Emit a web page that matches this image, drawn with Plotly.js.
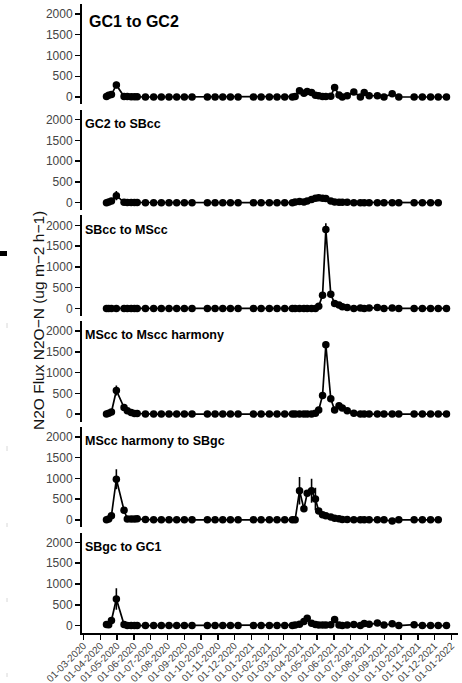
<!DOCTYPE html>
<html>
<head>
<meta charset="utf-8">
<script src="https://cdn.plot.ly/plotly-3.0.1.min.js"></script>
<style>html,body{margin:0;padding:0;background:#fff;}#chart{width:462px;height:683px;}</style>
</head>
<body>
<div id="chart"></div>
<script>
// Sampling dates (shared by all panels)
const dates = [
  '2020-04-12','2020-04-16','2020-04-21','2020-04-30','2020-05-14','2020-05-20','2020-05-27','2020-06-02','2020-06-07','2020-06-22',
  '2020-07-07','2020-07-21','2020-08-04','2020-08-18','2020-09-01','2020-09-15','2020-10-13','2020-10-27','2020-11-10','2020-11-24',
  '2020-12-08','2021-01-05','2021-01-19','2021-02-03','2021-02-17','2021-03-03','2021-03-17','2021-03-22','2021-03-30','2021-04-07',
  '2021-04-13','2021-04-21','2021-04-28','2021-05-04','2021-05-11','2021-05-17','2021-05-26','2021-06-02','2021-06-10','2021-06-16',
  '2021-06-25','2021-07-07','2021-07-19','2021-07-26','2021-08-04','2021-08-19','2021-08-31','2021-09-15','2021-09-27','2021-10-25',
  '2021-11-09','2021-11-24','2021-12-08','2021-12-23'
];

const panelTitles = ['GC1 to GC2','GC2 to SBcc','SBcc to MScc','MScc to Mscc harmony','MScc harmony to SBgc','SBgc to GC1'];

const gc1ToGc2 = [10,40,60,290,10,10,5,5,5,0, 0,0,0,0,0,0,0,0,0,0, 0,0,0,0,0,0,0,10,150,90, 130,110,40,30,10,10,20,230,50,0, 30,120,0,110,30,30,0,80,0,0, 0,0,0,0];
const gc1ToGc2Err = [0,0,0,80,0,0,0,0,0,0, 0,0,0,0,0,0,0,0,0,0, 0,0,0,0,0,0,0,0,30,0, 20,0,0,0,0,0,0,40,0,0, 0,0,0,0,0,0,0,0,0,0, 0,0,0,0];

const gc2ToSbcc = [0,20,40,170,10,5,5,5,5,0, 0,0,0,0,0,0,0,0,0,0, 0,0,0,0,0,0,0,20,30,20, 40,80,110,120,110,100,40,20,10,10, 10,0,0,0,0,0,0,0,0,0, 0,0,0,null];
const gc2ToSbccErr = [0,0,0,110,0,0,0,0,0,0, 0,0,0,0,0,0,0,0,0,0, 0,0,0,0,0,0,0,0,0,0, 0,0,20,30,20,0,0,0,0,0, 0,0,0,0,0,0,0,0,0,0, 0,0,0,0];

const sbccToMscc = [0,0,0,0,0,0,0,0,0,0, 0,0,0,0,0,0,0,0,0,0, 0,0,0,0,0,0,0,0,0,0, 0,0,0,55,316,1900,340,120,80,40, 20,0,10,0,10,20,0,10,0,0, 0,0,0,0];
const sbccToMsccErr = [0,0,0,0,0,0,0,0,0,0, 0,0,0,0,0,0,0,0,0,0, 0,0,0,0,0,0,0,0,0,0, 0,0,0,0,30,150,40,0,0,0, 0,0,0,0,0,0,0,0,0,0, 0,0,0,0];

const msccToHarmony = [0,20,50,570,160,80,40,15,15,0, 0,0,0,0,0,0,0,0,0,0, 0,0,0,0,0,0,0,0,0,0, 0,0,20,98,450,1670,370,100,200,150, 80,20,0,0,0,0,0,0,0,0, 0,0,0,0];
const msccToHarmonyErr = [0,0,0,120,30,0,0,0,0,0, 0,0,0,0,0,0,0,0,0,0, 0,0,0,0,0,0,0,0,0,0, 0,0,0,0,40,80,50,0,30,0, 0,0,0,0,0,0,0,0,0,0, 0,0,0,0];

const harmonyToSbgc = [0,20,100,977,230,20,20,20,25,10, 0,0,0,0,0,0,0,0,0,0, 0,0,0,0,0,0,0,0,700,265, 640,700,500,215,120,100,65,40,25,10, 10,0,0,0,0,0,0,-30,0,0, 0,0,0,null];
const harmonyToSbgcErr = [0,0,20,240,40,0,0,0,0,0, 0,0,0,0,0,0,0,0,0,0, 0,0,0,0,0,0,0,0,330,40, 80,290,270,40,0,0,0,0,0,0, 0,0,0,0,0,0,0,0,0,0, 0,0,0,0];

const sbgcToGc1 = [25,20,120,640,25,0,0,0,0,0, 0,0,0,0,0,0,0,0,0,0, 0,0,0,0,0,0,0,10,32,95, 175,55,25,10,10,10,20,145,10,0, 10,25,0,50,30,60,10,40,0,20, 0,0,0,0];
const sbgcToGc1Err = [0,0,20,260,0,0,0,0,0,0, 0,0,0,0,0,0,0,0,0,0, 0,0,0,0,0,0,0,0,0,20, 60,0,0,0,0,0,0,30,0,0, 0,0,0,0,0,0,0,0,0,0, 0,0,0,0];

const panelValues = [gc1ToGc2, gc2ToSbcc, sbccToMscc, msccToHarmony, harmonyToSbgc, sbgcToGc1];
const panelErrors = [gc1ToGc2Err, gc2ToSbccErr, sbccToMsccErr, msccToHarmonyErr, harmonyToSbgcErr, sbgcToGc1Err];

const yTickVals = [0,500,1000,1500,2000];
const xTickVals = ['2020-03-01','2020-04-01','2020-05-01','2020-06-01','2020-07-01','2020-08-01','2020-09-01','2020-10-01','2020-11-01','2020-12-01',
  '2021-01-01','2021-02-01','2021-03-01','2021-04-01','2021-05-01','2021-06-01','2021-07-01','2021-08-01','2021-09-01','2021-10-01',
  '2021-11-01','2021-12-01','2022-01-01'];
const xTickText = ['01-03-2020','01-04-2020','01-05-2020','01-06-2020','01-07-2020','01-08-2020','01-09-2020','01-10-2020','01-11-2020','01-12-2020',
  '01-01-2021','01-02-2021','01-03-2021','01-04-2021','01-05-2021','01-06-2021','01-07-2021','01-08-2021','01-09-2021','01-10-2021',
  '01-11-2021','01-12-2021','01-01-2022'];
const yTitle = 'N2O Flux N2O\u2212N (ug m\u22122 h\u22121)';

const FONT = 'Liberation Sans, Arial, sans-serif';
const H = 0.15975, STEP = 0.16805;

const traces = [];
const layout = {
  width: 462, height: 683,
  margin: {l: 82, r: 4, t: 4, b: 50},
  paper_bgcolor: '#fff', plot_bgcolor: '#fff',
  showlegend: false,
  font: {family: FONT, color: '#000'},
  xaxis: {
    type: 'date', anchor: 'y6',
    range: ['2020-02-27 08:00', '2022-01-13'],
    tickvals: xTickVals, ticktext: xTickText, tickangle: -45,
    ticks: 'outside', ticklen: 5, tickwidth: 1.5, tickcolor: '#000',
    ticklabelstandoff: -4,
    showline: true, linecolor: '#000', linewidth: 2,
    showgrid: false, zeroline: false,
    tickfont: {family: FONT, size: 10, color: '#444'}
  },
  annotations: [],
  shapes: []
};

panelValues.forEach((vals, i) => {
  const n = i + 1;
  const yid = n === 1 ? 'y' : 'y' + n;
  traces.push({
    x: dates, y: vals, xaxis: 'x', yaxis: yid,
    type: 'scatter', mode: 'lines+markers', connectgaps: true,
    line: {color: '#000', width: 1.7},
    marker: {color: '#000', size: 7.5},
    error_y: {type: 'data', array: panelErrors[i], visible: true, color: '#000', thickness: 1.6, width: 0},
    cliponaxis: false, hoverinfo: 'skip'
  });
  const top = 1 - i * STEP;
  layout[n === 1 ? 'yaxis' : 'yaxis' + n] = {
    domain: [Math.max(0, top - H), top], anchor: 'x',
    range: [-180, 2240],
    tickvals: yTickVals,
    ticks: 'outside', ticklen: 5, tickwidth: 1.5, tickcolor: '#000',
    showline: true, linecolor: '#000', linewidth: 2,
    showgrid: false, zeroline: false,
    tickfont: {family: FONT, size: 12, color: '#444'}
  };
  layout.annotations.push({
    text: '<b>' + panelTitles[i] + '</b>',
    xref: 'paper', yref: yid,
    x: i === 0 ? 0.013 : 0.003, y: i === 0 ? 1815 : 1900,
    xanchor: 'left', yanchor: 'middle', showarrow: false,
    font: {family: FONT, size: i === 0 ? 16 : 12.5, color: '#000'}
  });
});

layout.annotations.push({
  text: yTitle, textangle: -90,
  xref: 'paper', yref: 'paper',
  x: (38 - 82) / 376, y: (633 - 321) / 629,
  xanchor: 'center', yanchor: 'middle', showarrow: false,
  font: {family: FONT, size: 15.5, color: '#111'}
});

// small marks at the left edge of the reference image
layout.shapes.push({type: 'rect', xref: 'paper', yref: 'paper',
  x0: (0 - 82) / 376, x1: (7 - 82) / 376, y0: (633 - 256) / 629, y1: (633 - 251) / 629,
  fillcolor: '#000', line: {width: 0}});
[[323,328],[446,451],[523,527],[598,602],[673,677]].forEach(p => {
  layout.shapes.push({type: 'line', xref: 'paper', yref: 'paper',
    x0: (7 - 82) / 376, x1: (7 - 82) / 376, y0: (633 - p[1]) / 629, y1: (633 - p[0]) / 629,
    line: {color: '#d8d8d8', width: 1}});
});

Plotly.newPlot('chart', traces, layout, {staticPlot: true, displayModeBar: false});
</script>
</body>
</html>
